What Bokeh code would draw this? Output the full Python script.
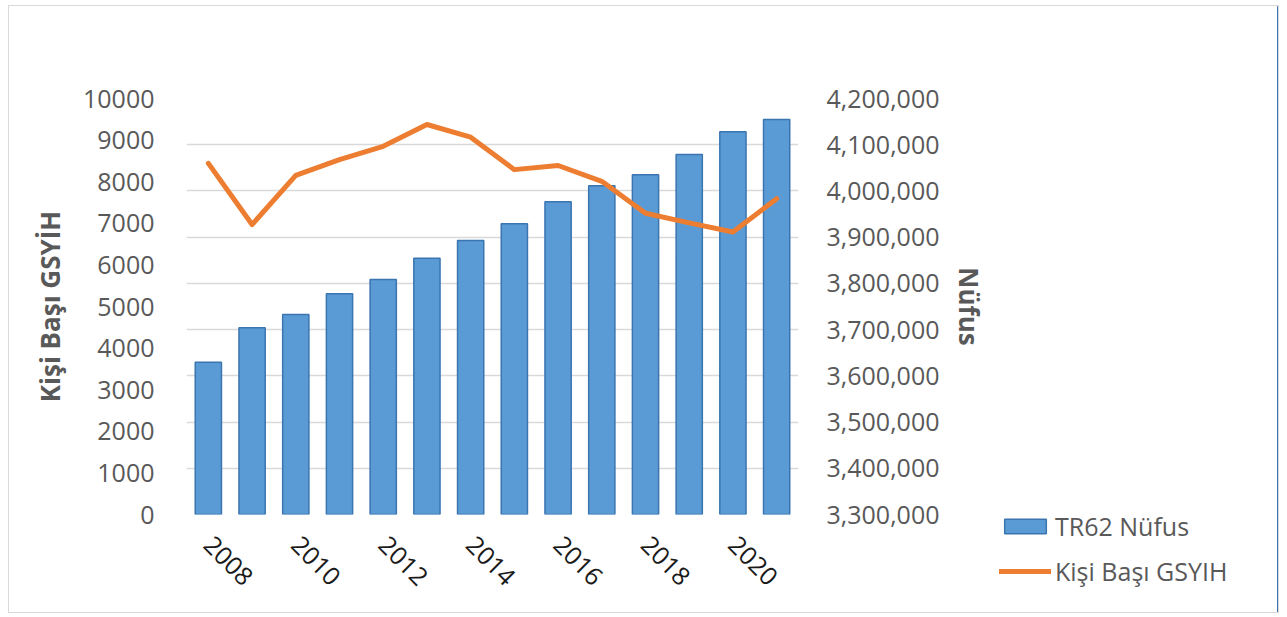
from bokeh.plotting import figure
from bokeh.layouts import row, column
from bokeh.models import (Range1d, LinearAxis, FixedTicker, SingleIntervalTicker,
                          NumeralTickFormatter, Legend, LegendItem, ColumnDataSource)
from bokeh.embed import file_html
from bokeh.resources import INLINE

years = [2008, 2009, 2010, 2011, 2012, 2013, 2014, 2015, 2016, 2017, 2018, 2019, 2020, 2021]
nufus = [3629500, 3703900, 3732700, 3777500, 3808400, 3854500, 3892800,
         3928900, 3976500, 4011100, 4035000, 4078900, 4128000, 4154600]
gsyih = [8440, 6970, 8150, 8530, 8850, 9375, 9070,
         8290, 8390, 8010, 7240, 7010, 6790, 7590]
x_ticks = [2008, 2010, 2012, 2014, 2016, 2018, 2020]
series_names = ["TR62 Nüfus", "Kişi Başı GSYIH"]

FONT = "Open Sans"
GRAY = "#595959"
BAR_FILL = "#5B9BD5"
BAR_LINE = "#3A75B0"
LINE_COL = "#ED7D31"
H = 606

src = ColumnDataSource(dict(year=years, nufus=nufus, gsyih=gsyih))

p = figure(width=980, height=H, output_backend="svg", toolbar_location=None,
           x_range=Range1d(2007.5, 2021.5), y_range=Range1d(0, 10000),
           min_border_left=177, min_border_right=185, min_border_top=92, min_border_bottom=98)
p.outline_line_color = None
p.background_fill_color = "white"
p.border_fill_color = "white"

p.extra_y_ranges = {"pop": Range1d(3300000, 4200000)}

bars = p.vbar(x="year", top="nufus", bottom=3300000, width=0.6, source=src,
              y_range_name="pop", fill_color=BAR_FILL, line_color=BAR_LINE, line_width=1.5)
line = p.line(x="year", y="gsyih", source=src, line_color=LINE_COL, line_width=5,
              line_join="round", line_cap="round")

p.xgrid.visible = False
p.ygrid.y_range_name = "pop"
p.ygrid.ticker = SingleIntervalTicker(interval=100000)
p.ygrid.grid_line_color = "#d9d9d9"
p.ygrid.grid_line_width = 1.5

xa = p.xaxis[0]
xa.ticker = FixedTicker(ticks=x_ticks)
xa.major_label_orientation = -0.785398
xa.axis_line_color = None
xa.major_tick_line_color = None
xa.minor_tick_line_color = None
xa.major_label_text_font = FONT
xa.major_label_text_font_size = "25px"
xa.major_label_text_color = "#1a1a1a"
xa.major_label_standoff = 20

ya = p.yaxis[0]
ya.ticker = SingleIntervalTicker(interval=1000)
ya.formatter = NumeralTickFormatter(format="0")
ya.axis_line_color = None
ya.major_tick_line_color = None
ya.minor_tick_line_color = None
ya.major_label_text_font = FONT
ya.major_label_text_font_size = "25px"
ya.major_label_text_color = GRAY
ya.major_label_standoff = 26
ya.axis_label = "Kişi Başı GSYİH"
ya.axis_label_text_font = FONT
ya.axis_label_text_font_size = "26px"
ya.axis_label_text_font_style = "bold"
ya.axis_label_text_color = GRAY
ya.axis_label_standoff = 12

ra = LinearAxis(y_range_name="pop", ticker=SingleIntervalTicker(interval=100000),
                formatter=NumeralTickFormatter(format="0,0"))
ra.axis_line_color = None
ra.major_tick_line_color = None
ra.minor_tick_line_color = None
ra.major_label_text_font = FONT
ra.major_label_text_font_size = "25px"
ra.major_label_text_color = GRAY
ra.major_label_standoff = 22
ra.axis_label = "Nüfus"
ra.axis_label_text_font = FONT
ra.axis_label_text_font_size = "26px"
ra.axis_label_text_font_style = "bold"
ra.axis_label_text_color = GRAY
ra.axis_label_standoff = 8
p.add_layout(ra, "right")

# legend panel: a separate figure whose ranges keep its copies of the series off-screen
pl = figure(width=1269 - 980, height=H, output_backend="svg", toolbar_location=None,
            x_range=Range1d(0, 1), y_range=Range1d(0, 1),
            x_axis_location=None, y_axis_location=None,
            min_border=0, min_border_left=0, min_border_right=0,
            min_border_top=0, min_border_bottom=0)
pl.grid.visible = False
pl.outline_line_color = None
pl.border_fill_color = "white"
pl.background_fill_color = "white"
lb = pl.vbar(x="year", top="nufus", width=0.6, source=src,
             fill_color=BAR_FILL, line_color=BAR_LINE, line_width=1.5)
ll = pl.line(x="year", y="gsyih", source=src, line_color=LINE_COL, line_width=5, line_cap="round")

legend = Legend(items=[LegendItem(label=series_names[0], renderers=[lb]),
                       LegendItem(label=series_names[1], renderers=[ll])],
                location=(10, 24), orientation="vertical")
legend.label_text_font = FONT
legend.label_text_font_size = "25px"
legend.label_text_color = GRAY
legend.glyph_width = 52
legend.glyph_height = 18
legend.label_standoff = 4
legend.spacing = 11
legend.padding = 0
legend.margin = 0
legend.border_line_color = None
legend.background_fill_alpha = 0
pl.add_layout(legend, "center")

layout = row(p, column(pl), styles={"border": "1px solid #d9d9d9", "margin-left": "8px",
                                    "margin-top": "5px", "background-color": "white"})

open("out.html", "w").write(file_html(layout, INLINE))
